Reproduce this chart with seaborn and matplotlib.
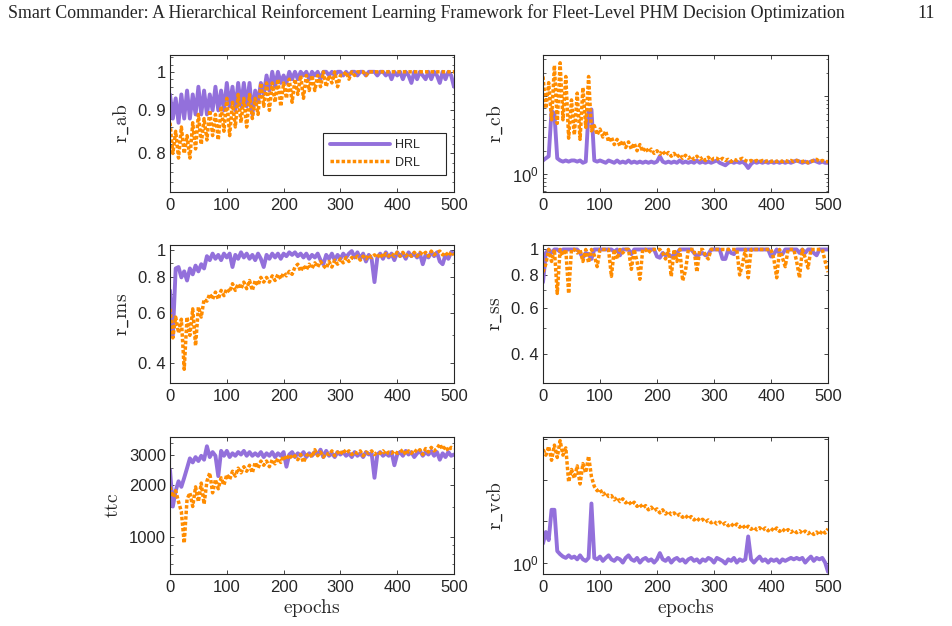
import numpy as np
import pandas as pd
import matplotlib
matplotlib.use("Agg")
import matplotlib.pyplot as plt
import matplotlib.ticker as mticker
import seaborn as sns

# epochs are sampled every 5 steps
epochs = np.arange(0, 501, 5)

r_ab_hrl = [0.94, 0.88, 0.93, 0.87, 0.94, 0.88, 0.95, 0.88, 0.94, 0.89, 0.96,
            0.89, 0.95, 0.89, 0.94, 0.90, 0.96, 0.90, 0.95, 0.90, 0.97,
            0.91, 0.96, 0.90, 0.97, 0.91, 0.97, 0.91, 0.97, 0.89, 0.95,
            0.92, 0.97, 0.94, 0.99, 0.95, 1.00, 0.96, 1.00, 0.97, 0.99,
            0.97, 1.00, 0.98, 1.00, 0.98, 1.00, 0.99, 1.00, 0.98, 1.00,
            0.99, 1.00, 0.98, 1.00, 1.00, 0.99, 1.00, 0.99, 1.00, 1.00,
            0.99, 1.00, 0.99, 1.00, 1.00, 0.99, 1.00, 1.00, 0.99, 1.00,
            1.00, 1.00, 0.99, 1.00, 1.00, 0.99, 1.00, 0.98, 1.00, 0.99,
            1.00, 0.98, 1.00, 0.99, 0.97, 1.00, 0.98, 1.00, 0.99, 0.98,
            1.00, 0.98, 1.00, 0.99, 0.97, 1.00, 0.98, 1.00, 0.99, 0.96]
r_ab_drl = [0.87, 0.80, 0.85, 0.79, 0.86, 0.80, 0.84, 0.79, 0.87, 0.81, 0.89,
            0.82, 0.88, 0.83, 0.90, 0.84, 0.89, 0.83, 0.91, 0.85, 0.93,
            0.84, 0.92, 0.86, 0.94, 0.87, 0.93, 0.86, 0.94, 0.88, 0.93,
            0.89, 0.97, 0.91, 0.97, 0.90, 0.97, 0.92, 0.98, 0.91, 0.97,
            0.93, 0.98, 0.92, 0.98, 0.94, 0.99, 0.93, 0.99, 0.95, 0.99,
            0.95, 0.99, 0.96, 1.00, 0.96, 0.99, 0.97, 1.00, 0.96, 0.99,
            0.99, 1.00, 0.98, 1.00, 0.99, 1.00, 1.00, 1.00, 0.99, 1.00,
            1.00, 1.00, 1.00, 1.00, 1.00, 1.00, 1.00, 1.00, 1.00, 1.00,
            1.00, 1.00, 1.00, 1.00, 1.00, 1.00, 1.00, 1.00, 1.00, 1.00,
            1.00, 1.00, 1.00, 1.00, 1.00, 1.00, 1.00, 1.00, 1.00, 1.00]

r_cb_hrl = [1.5, 1.6, 1.7, 6.5, 6.0, 1.6, 1.5, 1.45, 1.5, 1.45, 1.5,
            1.5, 1.45, 1.5, 1.4, 1.45, 6.5, 6.8, 1.5, 1.45, 1.5,
            1.45, 1.4, 1.5, 1.45, 1.4, 1.5, 1.4, 1.45, 1.4, 1.5,
            1.4, 1.45, 1.4, 1.45, 1.4, 1.45, 1.4, 1.45, 1.4, 1.45,
            1.7, 1.45, 1.4, 1.45, 1.4, 1.45, 1.4, 1.5, 1.4, 1.45,
            1.4, 1.45, 1.4, 1.5, 1.4, 1.45, 1.4, 1.45, 1.4, 1.45,
            1.5, 1.4, 1.35, 1.3, 1.4, 1.45, 1.4, 1.45, 1.4, 1.45,
            1.35, 1.2, 1.35, 1.45, 1.4, 1.45, 1.4, 1.45, 1.4, 1.45,
            1.4, 1.45, 1.4, 1.45, 1.4, 1.45, 1.4, 1.45, 1.5, 1.45,
            1.4, 1.45, 1.4, 1.45, 1.5, 1.45, 1.4, 1.45, 1.4, 1.4]
r_cb_drl = [18, 7, 15, 5, 25, 4.5, 27, 5, 18, 2.9, 9,
            3.2, 11, 2.8, 13, 4, 18, 3.6, 4.2, 3.2, 3.8,
            3.0, 3.6, 2.6, 3.0, 2.4, 2.8, 2.3, 2.7, 2.2, 2.6,
            2.1, 2.5, 2.0, 2.4, 1.95, 2.2, 1.9, 2.1, 1.85, 2.0,
            1.8, 2.0, 1.75, 1.9, 1.7, 1.85, 1.65, 1.8, 1.6, 1.75,
            1.6, 1.7, 1.55, 1.7, 1.55, 1.65, 1.5, 1.65, 1.5, 1.6,
            1.6, 1.5, 1.6, 1.5, 1.55, 1.45, 1.55, 1.5, 1.55, 1.6,
            1.5, 1.45, 1.5, 1.45, 1.5, 1.45, 1.5, 1.45, 1.5, 1.45,
            1.5, 1.45, 1.5, 1.45, 1.5, 1.45, 1.5, 1.45, 1.5, 1.45,
            1.45, 1.5, 1.4, 1.45, 1.5, 1.55, 1.45, 1.5, 1.45, 1.45]

r_ms_hrl = [0.72, 0.50, 0.86, 0.87, 0.80, 0.84, 0.78, 0.86, 0.82, 0.88, 0.84,
            0.89, 0.86, 0.95, 0.92, 0.97, 0.93, 0.96, 0.92, 0.97, 0.94,
            0.97, 0.87, 0.96, 0.93, 0.98, 0.94, 0.97, 0.93, 0.96, 0.92,
            0.97, 0.93, 0.87, 0.96, 0.93, 0.97, 0.94, 0.97, 0.93, 0.97,
            0.95, 0.98, 0.96, 0.98, 0.95, 0.97, 0.94, 0.97, 0.93, 0.96,
            0.94, 0.97, 0.92, 0.89, 0.96, 0.93, 0.97, 0.92, 0.96, 0.93,
            0.97, 0.94, 0.97, 0.99, 0.94, 0.98, 0.93, 0.97, 0.91, 0.96,
            0.93, 0.77, 0.94, 0.97, 0.93, 0.98, 0.94, 0.97, 0.92, 0.98,
            0.95, 0.97, 0.93, 0.98, 0.95, 0.97, 0.94, 0.97, 0.89, 0.96,
            0.94, 0.98, 0.95, 0.98, 0.91, 0.89, 0.96, 0.93, 0.98, 0.97]
r_ms_drl = [0.62, 0.49, 0.58, 0.51, 0.57, 0.38, 0.58, 0.50, 0.62, 0.46, 0.63,
            0.58, 0.67, 0.66, 0.70, 0.67, 0.71, 0.67, 0.72, 0.69, 0.73,
            0.71, 0.76, 0.72, 0.76, 0.73, 0.77, 0.73, 0.78, 0.72, 0.78,
            0.75, 0.80, 0.77, 0.80, 0.77, 0.81, 0.78, 0.82, 0.79, 0.83,
            0.81, 0.84, 0.82, 0.87, 0.89, 0.84, 0.88, 0.85, 0.89, 0.86,
            0.90, 0.87, 0.91, 0.88, 0.86, 0.91, 0.87, 0.92, 0.89, 0.93,
            0.90, 0.94, 0.91, 0.94, 0.93, 0.95, 0.92, 0.95, 0.93, 0.96,
            0.94, 0.96, 0.94, 0.97, 0.94, 0.97, 0.95, 0.97, 0.95, 0.98,
            0.95, 0.98, 0.95, 0.97, 0.95, 0.98, 0.95, 0.98, 0.96, 0.98,
            0.95, 0.99, 0.96, 0.98, 0.99, 0.96, 0.98, 0.95, 0.98, 0.96]

r_ss_hrl = [0.75, 0.97, 1.0, 0.97, 1.0, 1.0, 0.98, 1.0, 1.0, 1.0, 1.0,
            1.0, 1.0, 0.97, 0.93, 0.97, 0.96, 0.92, 1.0, 1.0, 1.0,
            1.0, 1.0, 1.0, 1.0, 0.98, 1.0, 0.95, 1.0, 1.0, 1.0,
            0.96, 1.0, 1.0, 1.0, 1.0, 1.0, 1.0, 1.0, 1.0, 0.94,
            0.93, 0.97, 0.95, 0.96, 0.94, 0.95, 0.97, 1.0, 1.0, 1.0,
            1.0, 1.0, 0.97, 0.94, 0.96, 0.97, 0.95, 0.96, 1.0, 1.0,
            1.0, 1.0, 0.92, 0.92, 1.0, 0.97, 0.96, 1.0, 1.0, 1.0,
            1.0, 1.0, 1.0, 1.0, 1.0, 1.0, 1.0, 1.0, 1.0, 0.94,
            0.96, 1.0, 0.97, 0.96, 1.0, 1.0, 1.0, 1.0, 1.0, 0.97,
            1.0, 0.97, 1.0, 1.0, 0.97, 0.95, 1.0, 1.0, 1.0, 1.0]
r_ss_drl = [0.82, 0.88, 1.0, 0.90, 1.0, 0.68, 1.0, 0.95, 1.0, 0.68, 1.0,
            1.0, 0.97, 1.0, 0.90, 1.0, 0.89, 1.0, 0.95, 0.86, 1.0,
            1.0, 1.0, 1.0, 0.79, 1.0, 0.92, 1.0, 0.97, 1.0, 1.0,
            0.84, 1.0, 0.90, 0.77, 1.0, 1.0, 0.97, 1.0, 1.0, 1.0,
            1.0, 0.97, 0.92, 1.0, 0.79, 1.0, 0.90, 1.0, 0.76, 0.83,
            1.0, 1.0, 1.0, 0.82, 1.0, 1.0, 0.95, 0.92, 1.0, 1.0,
            1.0, 1.0, 1.0, 1.0, 1.0, 1.0, 1.0, 1.0, 0.80, 0.88,
            1.0, 0.78, 1.0, 1.0, 1.0, 1.0, 1.0, 1.0, 1.0, 1.0,
            0.92, 0.78, 1.0, 0.93, 0.86, 1.0, 1.0, 1.0, 0.90, 0.78,
            1.0, 0.93, 0.85, 1.0, 1.0, 1.0, 1.0, 1.0, 0.90, 0.82]

ttc_hrl = [2450, 1500, 1850, 2100, 1950, 2200, 2500, 2850, 2700, 2900, 2750,
           2950, 2800, 3350, 2900, 3100, 2950, 2250, 3150, 2950, 3150,
           2900, 3050, 2950, 3100, 3000, 3150, 2950, 3100, 2950, 3050,
           2950, 3100, 2900, 3050, 2950, 3100, 2900, 3050, 2950, 3100,
           2550, 3000, 3100, 2900, 3050, 2950, 3100, 2900, 3050, 2950,
           3100, 3000, 3200, 2900, 3150, 2950, 3050, 2900, 3100, 3000,
           3100, 2950, 3050, 2900, 3100, 2950, 3050, 2900, 3100, 3000,
           3050, 2200, 3000, 3100, 2950, 3050, 2950, 3100, 2600, 3000,
           3100, 2950, 3150, 3000, 3100, 2900, 3050, 3150, 2950, 3100,
           3000, 3150, 2950, 3100, 2800, 3050, 2900, 3100, 2950, 3000]
ttc_drl = [1950, 1700, 1850, 1600, 1400, 920, 1650, 1800, 1500, 1950, 1600,
           2050, 1550, 2100, 2350, 1800, 2150, 1900, 2200, 2000, 2300,
           2150, 2400, 2250, 2500, 2350, 2550, 2400, 2600, 2350, 2700,
           2500, 2750, 2600, 2750, 2550, 2800, 2650, 2850, 2700, 2950,
           2800, 3000, 2850, 2950, 2800, 3000, 2700, 2950, 3050, 2900,
           3200, 2950, 3100, 2900, 3050, 3000, 3150, 2950, 3100, 3000,
           3200, 3050, 3150, 3000, 3100, 3050, 3150, 2950, 3100, 3050,
           3150, 3000, 3100, 3050, 3150, 3000, 3100, 3050, 3150, 3050,
           3100, 3200, 3000, 3150, 3050, 3200, 3100, 3200, 3000, 3250,
           3100, 3300, 3150, 3250, 3450, 3200, 3350, 3150, 3300, 3250]

r_vcb_hrl = [2.9, 5.5, 3.5, 19, 19, 1.9, 1.6, 1.4, 1.3, 1.5, 1.3,
             1.4, 1.2, 1.5, 1.2, 1.1, 1.3, 27, 1.3, 1.2, 1.4,
             1.1, 1.3, 1.5, 1.2, 1.1, 1.3, 1.2, 1.0, 1.3, 1.5,
             1.2, 1.1, 1.3, 1.0, 1.2, 1.3, 1.1, 1.2, 1.0, 1.2,
             1.7, 1.2, 1.1, 1.3, 1.0, 1.2, 1.3, 1.1, 1.2, 1.0,
             1.2, 1.3, 1.1, 1.2, 1.0, 1.2, 1.1, 1.3, 1.2, 1.0,
             1.3, 1.2, 1.1, 0.95, 1.2, 1.1, 1.3, 1.0, 1.2, 1.1,
             1.2, 4.3, 1.2, 1.0, 1.2, 1.4, 1.1, 1.2, 1.0, 1.2,
             1.1, 1.2, 1.0, 1.2, 1.1, 1.2, 1.3, 1.2, 1.3, 1.2,
             1.3, 1.0, 1.2, 1.4, 1.1, 1.3, 1.2, 1.3, 1.0, 0.6]
r_vcb_drl = [550, 400, 650, 300, 700, 350, 900, 400, 600, 90, 180,
             110, 220, 80, 250, 150, 380, 120, 70, 55, 60,
             44, 50, 40, 42, 33, 38, 30, 35, 28, 31,
             25, 29, 23, 26, 21, 24, 19, 22, 18, 20,
             16, 19, 15, 17.5, 14.5, 16, 13.5, 15, 12.5, 14,
             11.5, 13, 10.8, 12.2, 10.2, 11.2, 9.6, 10.8, 9.2, 10,
             8.6, 9.6, 8.2, 9.2, 7.8, 8.8, 7.4, 8.6, 7.2, 8.2,
             6.6, 7.6, 6.4, 7.2, 6.2, 7.0, 6.0, 6.9, 5.9, 6.8,
             5.8, 6.9, 5.7, 6.6, 5.6, 6.3, 5.4, 6.1, 5.3, 5.9,
             5.1, 5.8, 5.0, 5.6, 4.8, 5.5, 4.7, 6.0, 5.2, 6.6]

sns.set_theme(style="ticks")
plt.rcParams.update({
    "font.family": ["Liberation Sans", "DejaVu Sans"],
    "mathtext.fontset": "custom",
    "mathtext.rm": "Liberation Sans",
    "mathtext.it": "Liberation Sans:italic",
    "xtick.direction": "in",
    "ytick.direction": "in",
    "xtick.top": True,
    "ytick.right": True,
    "xtick.major.size": 3,
    "ytick.major.size": 3,
    "ytick.minor.size": 1.8,
    "xtick.minor.visible": False,
    "xtick.major.width": 0.6,
    "ytick.major.width": 0.6,
    "ytick.minor.width": 0.5,
    "axes.edgecolor": "#262626",
    "axes.linewidth": 0.8,
    "xtick.color": "#262626",
    "ytick.color": "#262626",
    "xtick.labelsize": 12,
    "ytick.labelsize": 12,
    "xtick.major.pad": 4,
    "ytick.major.pad": 3,
})

HRL_COLOR = "#9370DB"
DRL_COLOR = "#FF8C00"

fig = plt.figure(figsize=(9.52, 6.26), dpi=100)

W, H = 952, 626
def px_axes(x0, y0, x1, y1):
    return fig.add_axes([x0 / W, 1 - y1 / H, (x1 - x0) / W, (y1 - y0) / H])

panels = [
    # name, hrl, drl, ylim, major, labels, minor, box(px)
    ("r_ab", r_ab_hrl, r_ab_drl, (0.72, 1.047), [0.8, 0.9, 1.0], ["0. 8", "0. 9", "1"],
     [0.72, 0.74, 0.76, 0.78, 0.82, 0.84, 0.86, 0.88, 0.92, 0.94, 0.96, 0.98, 1.02, 1.04],
     (170, 55, 454, 192)),
    ("r_cb", r_cb_hrl, r_cb_drl, (0.59, 34), [1, 10], ["$10^0$", ""],
     [0.6, 0.7, 0.8, 0.9, 2, 3, 4, 5, 6, 7, 8, 9, 20, 30],
     (543, 55, 828, 192)),
    ("r_ms", r_ms_hrl, r_ms_drl, (0.34, 1.04), [0.4, 0.6, 0.8, 1.0], ["0. 4", "0. 6", "0. 8", "1"],
     [0.5, 0.7, 0.9], (170, 245, 454, 383)),
    ("r_ss", r_ss_hrl, r_ss_drl, (0.31, 1.04), [0.4, 0.6, 0.8, 1.0], ["0. 4", "0. 6", "0. 8", "1"],
     [0.5, 0.7, 0.9], (543, 245, 828, 383)),
    ("ttc", ttc_hrl, ttc_drl, (610, 3790), [1000, 2000, 3000], ["1000", "2000", "3000"],
     [700, 800, 900, 1500, 2500, 3500], (170, 437, 454, 574)),
    ("r_vcb", r_vcb_hrl, r_vcb_drl, (0.53, 1100), [1, 10, 100, 1000], ["$10^0$", "", "", ""],
     [], (543, 437, 828, 574)),
]

for i, (name, hrl, drl, ylim, major, labels, minor, box) in enumerate(panels):
    ax = px_axes(*box)
    df = pd.DataFrame({"epoch": epochs, "HRL": hrl, "DRL": drl})
    sns.lineplot(data=df, x="epoch", y="HRL", ax=ax, color=HRL_COLOR, lw=2.8,
                 label="HRL", legend=False)
    sns.lineplot(data=df, x="epoch", y="DRL", ax=ax, color=DRL_COLOR, lw=2.5,
                 linestyle=(0, (1, 0.6)), label="DRL", legend=False)
    ax.set_yscale("log")
    ax.set_xlim(0, 500)
    ax.set_ylim(*ylim)
    ax.set_xticks([0, 100, 200, 300, 400, 500])
    ax.yaxis.set_major_locator(mticker.FixedLocator(major))
    ax.yaxis.set_major_formatter(mticker.FixedFormatter(labels))
    if minor:
        ax.yaxis.set_minor_locator(mticker.FixedLocator(minor))
    else:
        ax.yaxis.set_minor_locator(mticker.NullLocator())
    ax.yaxis.set_minor_formatter(mticker.NullFormatter())
    for sp in ax.spines.values():
        sp.set_visible(True)
    ax.set_ylabel(r"$\mathrm{" + name.replace("_", r"\_") + "}$", fontsize=14,
                  math_fontfamily="cm", labelpad=5)
    if i >= 4:
        ax.set_xlabel(r"$\mathrm{epochs}$", fontsize=14, math_fontfamily="cm", labelpad=2)
    else:
        ax.set_xlabel("")
    if i == 0:
        ax.legend(loc="lower left", bbox_to_anchor=(0.518, 0.08, 0.475, 0.343),
                  mode="expand", fontsize=9, frameon=True, fancybox=False,
                  edgecolor="#262626", framealpha=1, handlelength=4.8,
                  handletextpad=0.4, borderpad=0.5, labelspacing=0.45)
        ax.get_legend().get_frame().set_linewidth(0.8)

fig.text(8 / W, 1 - 13 / H,
         "Smart Commander: A Hierarchical Reinforcement Learning Framework for Fleet-Level PHM Decision Optimization",
         ha="left", va="center", fontsize=12.9, family=["Liberation Serif", "DejaVu Serif"])
fig.text(935 / W, 1 - 13 / H, "11", ha="right", va="center", fontsize=12.9,
         family=["Liberation Serif", "DejaVu Serif"])

fig.savefig("out.png", dpi=100)
